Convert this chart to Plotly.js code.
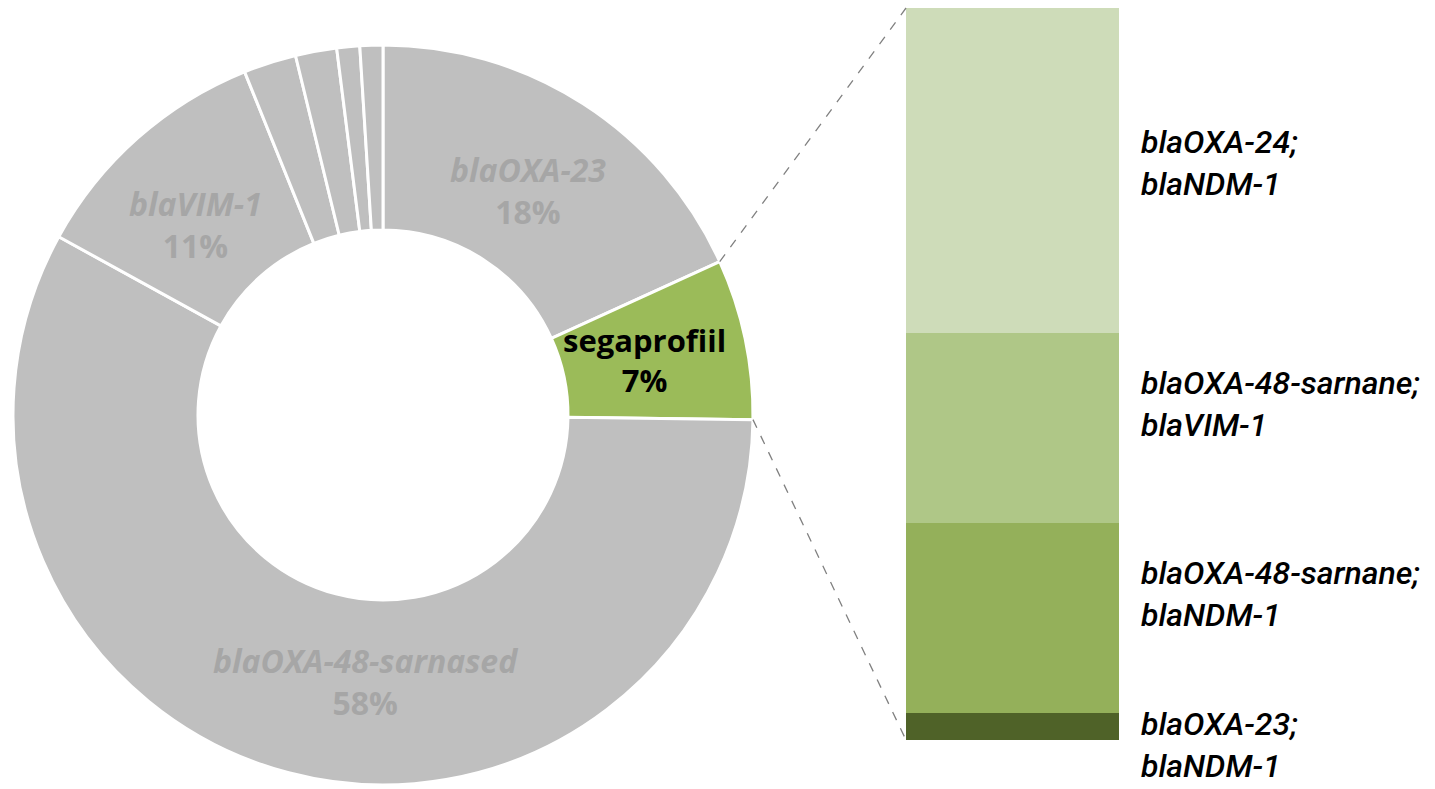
<!DOCTYPE html>
<html>
<head>
<meta charset="utf-8">
<script src="https://cdn.plot.ly/plotly-3.0.1.min.js"></script>
<style>html,body{margin:0;padding:0;background:#fff;}#chart{width:1435px;height:789px;}</style>
</head>
<body>
<div id="chart"></div>
<script>
// ---- data ----
const pieLabels = ["blaOXA-23", "segaprofiil", "blaOXA-48-sarnased", "blaVIM-1", "muu 1", "muu 2", "muu 3", "muu 4"];
const pieValues = [18.2, 7.0, 57.8, 10.9, 2.3, 1.8, 1.0, 1.0];
const pieShown = ["blaOXA-23", "segaprofiil", "blaOXA-48-sarnased", "blaVIM-1", "", "", "", ""];
const barLabels = ["blaOXA-23;<br>blaNDM-1", "blaOXA-48-sarnane;<br>blaNDM-1", "blaOXA-48-sarnane;<br>blaVIM-1", "blaOXA-24;<br>blaNDM-1"];
const barValues = [1, 7, 7, 12];
const barCategory = ["segaprofiil"];

// ---- styling ----
const W = 1435, H = 789;
const grey = "#BFBFBF", green = "#9BBB59";
const pieColors = [grey, green, grey, grey, grey, grey, grey, grey];
const barColors = ["#4F6228", "#94B05A", "#AFC787", "#CEDCB9"];
const labelShift = [-19, 24, 24, 8];
const labelAngleShift = [0, 0, -11, -3, 0, 0, 0, 0];

// pie geometry (px)
const cx = 383, cy = 415, R = 370, hole = 0.5;
const pieDomX = [(cx - R) / W, (cx + R) / W];
const pieDomY = [1 - (cy + R) / H, 1 - (cy - R) / H];
const barDomX = [906 / W, 1119 / W];
const barDomY = [49 / H, 781 / H];

const total = pieValues.reduce((a, b) => a + b, 0);
const cum = [];
let acc = 0;
pieValues.forEach(v => { cum.push(acc); acc += v; });
function pt(angleDeg, rad) {
  const a = angleDeg * Math.PI / 180;
  return [(cx + rad * Math.sin(a)) / W, 1 - (cy - rad * Math.cos(a)) / H];
}

const annotations = [];
const rhoLab = R * (1 + hole) / 2 - 10;
pieShown.forEach((lab, i) => {
  if (!lab) return;
  const mid = (cum[i] + pieValues[i] / 2) / total * 360 + labelAngleShift[i];
  const p = pt(mid, rhoLab);
  const pct = Math.round(pieValues[i] / total * 100) + "%";
  const isGreen = i === 1;
  annotations.push({
    xref: "paper", yref: "paper", x: p[0], y: p[1], xanchor: "center", yanchor: "middle",
    showarrow: false,
    text: isGreen ? lab + "<br>" + pct : "<i>" + lab + "</i><br>" + pct,
    font: {family: "Open Sans, Noto Sans, sans-serif", size: isGreen ? 31 : 32, weight: 700, color: isGreen ? "#000000" : "#A6A6A6"}
  });
});

let bc = 0;
barValues.forEach((v, i) => {
  annotations.push({
    xref: "paper", yref: "y2", x: 1140 / W, y: bc + v / 2, xanchor: "left", yanchor: "middle",
    yshift: labelShift[i], showarrow: false, align: "left", borderpad: 0,
    text: "<i>" + barLabels[i] + "</i>",
    font: {family: "Roboto, sans-serif", size: 32, weight: 500, color: "#000000"}
  });
  bc += v;
});

// connector lines from green slice edges to bar corners
const segStart = cum[1] / total * 360, segEnd = (cum[1] + pieValues[1]) / total * 360;
const p1 = pt(segStart, R), p2 = pt(segEnd, R);
const shapes = [
  {type: "line", xref: "paper", yref: "paper", x0: p1[0], y0: p1[1], x1: barDomX[0], y1: barDomY[1], line: {color: "#808080", width: 1.3, dash: "dash"}},
  {type: "line", xref: "paper", yref: "paper", x0: p2[0], y0: p2[1], x1: barDomX[0], y1: barDomY[0], line: {color: "#808080", width: 1.3, dash: "dash"}}
];

const traces = [{
  type: "pie", labels: pieLabels, values: pieValues, hole: hole, sort: false,
  direction: "clockwise", rotation: 0, textinfo: "none", textposition: "none",
  marker: {colors: pieColors, line: {color: "#FFFFFF", width: 3}},
  domain: {x: pieDomX, y: pieDomY}, showlegend: false, hoverinfo: "label+percent"
}];
barValues.forEach((v, i) => {
  traces.push({
    type: "bar", x: barCategory, y: [v], name: barLabels[i], xaxis: "x2", yaxis: "y2",
    marker: {color: barColors[i], line: {width: 0}}, showlegend: false, hoverinfo: "name+y"
  });
});

const layout = {
  width: W, height: H, margin: {l: 0, r: 0, t: 0, b: 0},
  paper_bgcolor: "#FFFFFF", plot_bgcolor: "rgba(0,0,0,0)",
  barmode: "stack", bargap: 0, showlegend: false,
  xaxis2: {domain: barDomX, anchor: "y2", visible: false, fixedrange: true},
  yaxis2: {domain: barDomY, anchor: "x2", visible: false, range: [0, barValues.reduce((a, b) => a + b, 0)], fixedrange: true},
  annotations: annotations, shapes: shapes
};

Plotly.newPlot("chart", traces, layout, {displayModeBar: false, staticPlot: true});
</script>
</body>
</html>
